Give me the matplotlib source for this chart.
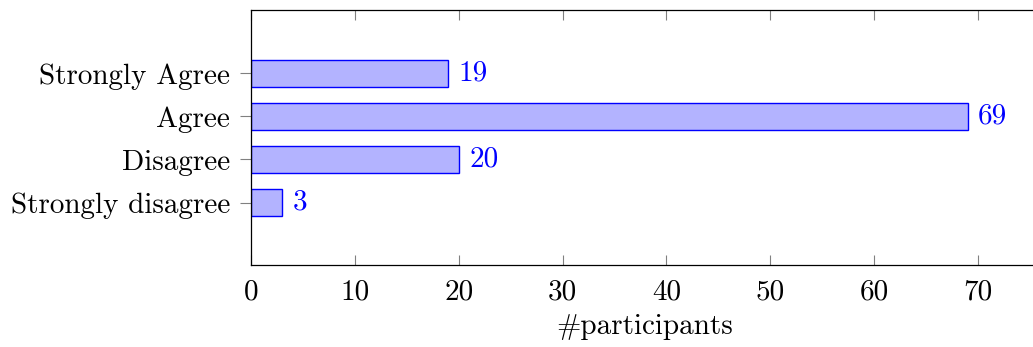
import matplotlib.pyplot as plt

# Survey responses
categories = ['Strongly disagree', 'Disagree', 'Agree', 'Strongly Agree']
counts = [3, 20, 69, 19]
xticks = [0, 10, 20, 30, 40, 50, 60, 70]

plt.rcParams['font.family'] = 'cmr10'
plt.rcParams['axes.formatter.use_mathtext'] = True
plt.rcParams['mathtext.fontset'] = 'cm'

fig = plt.figure(figsize=(10.33, 3.47), dpi=100)
ax = fig.add_axes([0.243, 0.2363, 0.763, 0.7363])

pos = list(range(len(categories)))
ax.barh(pos, counts, height=0.63, color='#b3b3ff', edgecolor='blue', linewidth=1)
for p, c in zip(pos, counts):
    ax.text(c + 1.0, p, str(c), color='blue', fontsize=21, va='center', ha='left')

ax.set_xlim(0, 75.9)
ax.set_ylim(-1.45, 4.48)
ax.set_xticks(xticks)
ax.set_xticklabels([str(t) for t in xticks])
ax.set_yticks(pos)
ax.set_yticklabels(categories)
ax.tick_params(axis='x', direction='in', top=True, length=7, color='#808080', width=0.8,
               labelsize=21, pad=10)
ax.tick_params(axis='y', direction='out', length=8, color='#808080', width=0.8,
               labelsize=21, pad=7)
ax.spines['right'].set_visible(False)
for s in ['left', 'bottom', 'top']:
    ax.spines[s].set_linewidth(0.9)
ax.set_xlabel('#participants', fontsize=21, labelpad=6)

fig.savefig('out.png', dpi=100)
